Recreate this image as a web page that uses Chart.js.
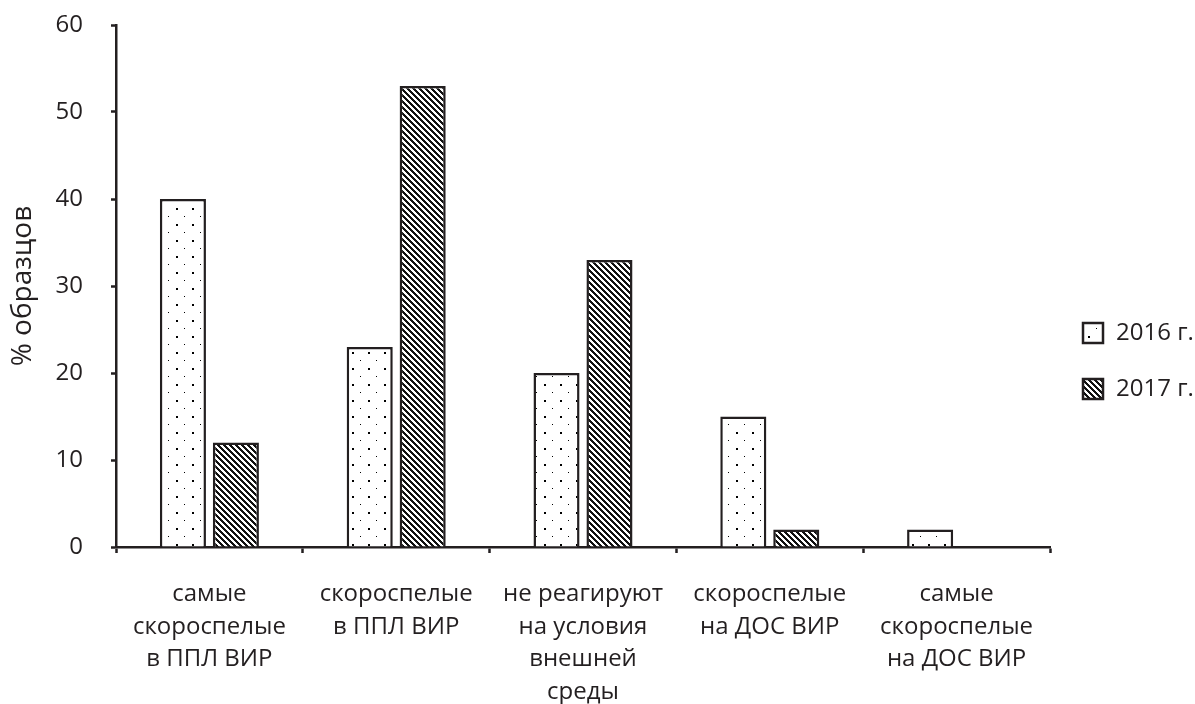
<!DOCTYPE html>
<html>
<head>
<meta charset="utf-8">
<script src="https://cdn.jsdelivr.net/npm/chart.js@4.4.1/dist/chart.umd.min.js"></script>
<style>
  html, body { margin: 0; padding: 0; background: #fff; }
  #wrap { width: 1195px; height: 704px; position: relative; }
</style>
</head>
<body>
<div id="wrap"><canvas id="chart"></canvas></div>
<script>
// data
const categories = [
    ['самые', 'скороспелые', 'в ППЛ ВИР'],
    ['скороспелые', 'в ППЛ ВИР'],
    ['не реагируют', 'на условия', 'внешней', 'среды'],
    ['скороспелые', 'на ДОС ВИР'],
    ['самые', 'скороспелые', 'на ДОС ВИР']
];
const seriesNames = ['2016 г.', '2017 г.'];
const values2016 = [40, 23, 20, 15, 2];
const values2017 = [12, 53, 33, 2, null];
const yTicks = [0, 10, 20, 30, 40, 50, 60];

const INK = '#231f20';
const FONT = "'Open Sans', 'Noto Sans', sans-serif";

// dotted fill: big dot on a 16px grid, small dot in between
function dotPattern() {
    const c = document.createElement('canvas');
    c.width = 16; c.height = 16;
    const g = c.getContext('2d');
    g.fillStyle = '#fff';
    g.fillRect(0, 0, 16, 16);
    g.fillStyle = '#000';
    g.fillRect(0, 0, 2, 2);
    g.fillRect(8, 8, 1, 1);
    return g.createPattern(c, 'repeat');
}

// dense back-slash hatch
function hatchPattern() {
    const n = 6;
    const c = document.createElement('canvas');
    c.width = n; c.height = n;
    const g = c.getContext('2d');
    g.fillStyle = '#fff';
    g.fillRect(0, 0, n, n);
    g.fillStyle = '#111';
    for (let i = 0; i < n; i++) {
        g.fillRect(i, i, 1, 1);
        g.fillRect((i + 1) % n, i, 1, 1);
        g.fillRect((i + 2) % n, i, 1, 1);
    }
    return g.createPattern(c, 'repeat');
}

// legend drawn on the right, boxes use the same fills as the bars
const sideLegend = {
    id: 'sideLegend',
    afterDraw(chart) {
        const ctx = chart.ctx;
        const rows = [333, 389];
        ctx.save();
        chart.data.datasets.forEach((ds, i) => {
            const y = rows[i];
            ctx.fillStyle = ds.backgroundColor;
            ctx.fillRect(1083, y - 10, 20, 20);
            ctx.lineWidth = 2.5;
            ctx.strokeStyle = INK;
            ctx.strokeRect(1083, y - 10, 20, 20);
            ctx.fillStyle = INK;
            ctx.font = '24px ' + FONT;
            ctx.textBaseline = 'middle';
            ctx.textAlign = 'left';
            ctx.fillText(ds.label, 1116, y);
        });
        ctx.restore();
    }
};

const ctx = document.getElementById('chart').getContext('2d');
new Chart(ctx, {
    type: 'bar',
    data: {
        labels: categories,
        datasets: [
            {
                label: seriesNames[0],
                data: values2016,
                backgroundColor: dotPattern(),
                borderColor: INK,
                borderWidth: 2.5
            },
            {
                label: seriesNames[1],
                data: values2017,
                backgroundColor: hatchPattern(),
                borderColor: INK,
                borderWidth: 2.5
            }
        ]
    },
    options: {
        responsive: true,
        maintainAspectRatio: false,
        animation: false,
        datasets: {
            bar: { categoryPercentage: 0.567, barPercentage: 0.87 }
        },
        layout: { padding: { top: 25, right: 145, bottom: 0, left: 0 } },
        plugins: {
            legend: { display: false },
            tooltip: { enabled: false }
        },
        scales: {
            x: {
                offset: true,
                border: { color: INK, width: 2.5 },
                grid: {
                    offset: true,
                    drawOnChartArea: false,
                    color: INK,
                    tickColor: INK,
                    tickWidth: 2.5,
                    tickLength: 6
                },
                ticks: {
                    color: INK,
                    font: { family: FONT, size: 24, lineHeight: 1.36 },
                    padding: 25,
                    maxRotation: 0,
                    autoSkip: false
                },
                afterFit(scale) { scale.height = 157; }
            },
            y: {
                min: 0,
                max: 60,
                afterBuildTicks(scale) {
                    scale.ticks = yTicks.map(v => ({ value: v }));
                },
                border: { color: INK, width: 2.5 },
                grid: {
                    drawOnChartArea: false,
                    tickColor: INK,
                    tickWidth: 2.5,
                    tickLength: 5
                },
                ticks: {
                    color: INK,
                    font: { family: FONT, size: 24 },
                    padding: 28
                },
                title: {
                    display: true,
                    text: '% образцов',
                    color: INK,
                    font: { family: FONT, size: 28 },
                    padding: { top: 6, bottom: 0 }
                },
                afterFit(scale) {
                    scale.width = 116;
                    scale.paddingTop = 0;
                    scale.paddingBottom = 0;
                }
            }
        }
    },
    plugins: [sideLegend]
});
</script>
</body>
</html>
